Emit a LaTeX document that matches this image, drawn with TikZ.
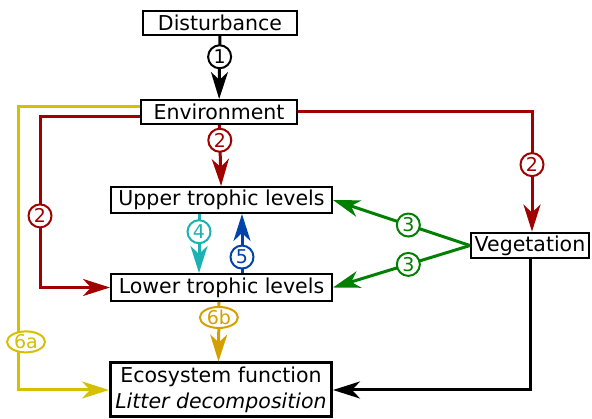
\documentclass[tikz,border=0pt]{standalone}
\usepackage{fontspec}
\setmainfont{DejaVu Sans}
\usetikzlibrary{arrows.meta,shapes.geometric}
\definecolor{darkred}{RGB}{160,0,0}
\definecolor{mustard}{RGB}{212,192,0}
\definecolor{amber}{RGB}{212,160,0}
\definecolor{leafgreen}{RGB}{0,128,0}
\definecolor{teal2}{RGB}{26,178,178}
\definecolor{navy2}{RGB}{0,68,170}

\begin{document}
\begin{tikzpicture}[x=1pt,y=-1pt]
\tikzstyle{block} = [rectangle, draw=black, line width=2pt, fill=white,
inner sep=3pt, minimum height=24pt, text centered,
font=\fontsize{20.5}{26}\selectfont]
\tikzstyle{block_wide} = [block, minimum width=221pt, minimum height=26pt]
\tikzstyle{num} = [circle, draw, fill=white, line width=2pt,
minimum size=23pt, inner sep=0pt, font=\fontsize{19}{20}\selectfont]
\tikzstyle{oval} = [ellipse, draw, fill=white, line width=2pt,
minimum width=38pt, minimum height=21pt, inner sep=0pt,
font=\fontsize{19}{20}\selectfont]
\tikzstyle{line} = [draw, line width=3pt, ->,
>={Stealth[length=27pt,width=17pt,inset=8pt]}]
\useasboundingbox (0,0) rectangle (592,419);
% boxes
\node [block, minimum width=154pt] (disturbance) at (220,23) {Disturbance};
\node [block, minimum width=156pt] (environment) at (219,112) {Environment};
\node [block_wide] (upper) at (221.5,200) {Upper trophic levels};
\node [block_wide, minimum height=27pt] (lower) at (221.5,287.5) {Lower trophic levels};
\node [block_wide, line width=3pt, minimum height=54pt, inner sep=2pt, align=center]
(ecosystem) at (221,390) {Ecosystem function\\\textit{Litter decomposition}};
\node [block, minimum width=118pt, minimum height=25pt] (vegetation) at (530,245.5) {Vegetation};
\coordinate (yellowcorner) at (18,107);
\coordinate (redcorner) at (40,117);
% arrows
\path [line] (disturbance) -- node [num, pos=0.33] {1} (environment);
\path [line, darkred] (environment) -- node [num, pos=0.25] {2} (upper);
\path [line, darkred] (environment.east) -| node [num, pos=0.72] {2} ([xshift=2pt]vegetation.north);
\path [line, darkred] ([yshift=-5pt]environment.west) -- (redcorner) |- node [num, pos=0.29] {2} (lower.west);
\path [line, mustard] ([yshift=5pt]environment.west) -- (yellowcorner) |- node [oval, pos=0.415, xshift=8pt] {6a} (ecosystem.west);
\path [line, leafgreen] (vegetation.west) -- node [num, pos=0.45] {3} (upper.east);
\path [line, leafgreen] (vegetation.west) -- node [num, pos=0.45] {3} (lower.east);
\path [line, teal2] ([xshift=-22.5pt]upper.south) -- node [num, pos=0.3] {4} ([xshift=-22.5pt]lower.north);
\path [line, navy2] ([xshift=20.5pt]lower.north) -- node [num, pos=0.27] {5} ([xshift=20.5pt]upper.south);
\path [line, amber] ([xshift=-2.5pt]lower.south) -- node [oval, pos=0.26] {6b} ([xshift=-2.5pt]ecosystem.north);
\path [line] (vegetation.south) |- (ecosystem.east);
\end{tikzpicture}
\end{document}
